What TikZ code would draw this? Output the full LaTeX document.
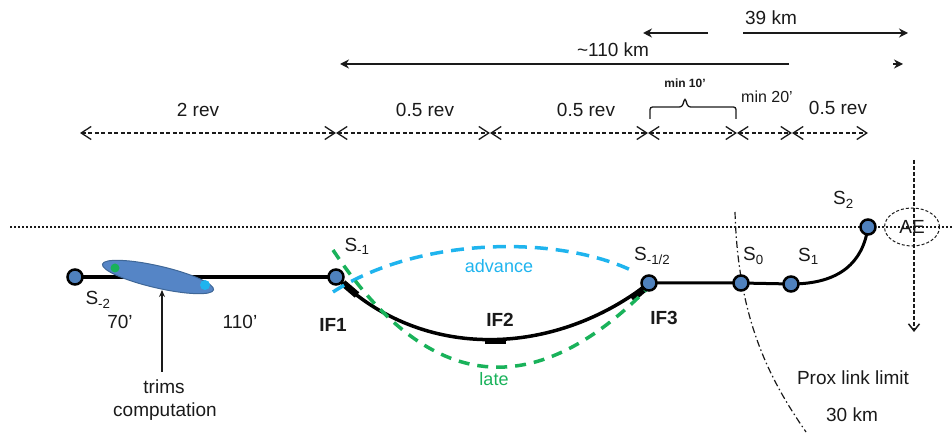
\documentclass[tikz,border=0pt]{standalone}
\usepackage{fontspec}
\setmainfont{Liberation Sans}
\usetikzlibrary{arrows.meta,backgrounds,shapes.geometric}
\definecolor{nodeblue}{HTML}{4F81BD}
\definecolor{ellblue}{HTML}{5585C6}
\definecolor{advblue}{HTML}{1FB4EE}
\definecolor{lategreen}{HTML}{19B25A}
\definecolor{txt}{HTML}{1A1A1A}
\begin{document}
\begin{tikzpicture}[x=1pt,y=-1pt,
  lbl/.style={inner sep=0pt, text=txt, font=\fontsize{19}{22}\selectfont},
  lblb/.style={inner sep=0pt, text=txt, font=\fontsize{19}{22}\selectfont\bfseries},
  stn/.style={circle, fill=nodeblue, draw=black, line width=2.5pt, minimum size=15pt, inner sep=0pt},
  topar/.style={line width=1.8pt, draw=txt, -{Stealth[length=9pt,width=9pt]}},
  dimline/.style={line width=1.3pt, draw=txt, dash pattern=on 4pt off 2.5pt,
     {Straight Barb[length=10pt,width=13pt]}-{Straight Barb[length=10pt,width=13pt]}},
  trackline/.style={line width=3.5pt, draw=black},
  advarc/.style={line width=3.5pt, draw=advblue, dash pattern=on 13pt off 8pt},
  latearc/.style={line width=3.5pt, draw=lategreen, dash pattern=on 11pt off 8pt},
  thickmark/.style={line width=7pt, draw=black},
]
\useasboundingbox (0,0) rectangle (952,435);

% ---------- top distance arrows ----------
\coordinate (k39a) at (708,33);
\coordinate (k39b) at (643,33);
\coordinate (k39c) at (743,33);
\coordinate (k39d) at (908,33);
\draw[topar] (k39a) -- (k39b);
\draw[topar] (k39c) -- (k39d);
\node[lbl] (t39) at (771,18) {39 km};

\coordinate (k110a) at (789,64);
\coordinate (k110b) at (340,64);
\coordinate (k110c) at (893,64);
\coordinate (k110d) at (903,64);
\draw[topar] (k110a) -- (k110b);
\draw[topar] (k110c) -- (k110d);
\node[lbl] (t110) at (613,50) {\textasciitilde 110 km};

% ---------- revolution dimension row ----------
\coordinate (d0) at (80,133);
\coordinate (d1) at (336,133);
\coordinate (d2) at (490,133);
\coordinate (d3) at (648,133);
\coordinate (d4) at (737,133);
\coordinate (d5) at (792,133);
\coordinate (d6) at (868,133);
\draw[dimline] (d0) -- (d1);
\draw[dimline] (d1) -- (d2);
\draw[dimline] (d2) -- (d3);
\draw[dimline] (d3) -- (d4);
\draw[dimline] (d4) -- (d5);
\draw[dimline] (d5) -- (d6);

\node[lbl] (r2) at (198,110) {2 rev};
\node[lbl] (r05a) at (425,110) {0.5 rev};
\node[lbl] (r05b) at (586,110) {0.5 rev};
\node[lbl] (r05c) at (838,108) {0.5 rev};
\node[inner sep=0pt, text=txt, font=\fontsize{12}{14}\selectfont\bfseries] (m10) at (685,83) {min 10'};
\node[inner sep=0pt, text=txt, font=\fontsize{16}{18}\selectfont] (m20) at (767,97) {min 20'};
\draw[line width=1.3pt, draw=txt, rounded corners=2.5pt]
  (650,119) -- (650,107) -- (682,107) -- (685,98) -- (688,107) -- (736,107) -- (736,119);

% ---------- reference dotted line and AE ----------
\coordinate (hl) at (10,227);
\coordinate (hr) at (952,227);
\draw[line width=1.5pt, draw=txt, dash pattern=on 2pt off 2pt] (hl) -- (hr);
\node[ellipse, draw=txt, line width=1pt, dash pattern=on 3pt off 2pt,
      minimum width=55pt, minimum height=38pt, inner sep=0pt, text=txt,
      font=\fontsize{19}{22}\selectfont] (ae) at (912,227) {AE};
\coordinate (vtop) at (914,160);
\coordinate (vbot) at (914,332);
\draw[line width=1.5pt, draw=txt, dash pattern=on 4pt off 2pt,
      -{Straight Barb[length=7pt,width=11pt]}] (vtop) -- (vbot);

% ---------- stations ----------
\node[stn] (sm2) at (75,277) {};
\node[stn] (if1) at (336,277) {};
\node[stn] (s12) at (649,283) {};
\node[stn] (s0) at (741,283) {};
\node[stn] (s1) at (791,284) {};
\node[stn] (s2) at (868,227) {};

\begin{scope}[on background layer]
  % prox link limit
  \coordinate (pl0) at (735,212);
  \coordinate (pl1) at (806,432);
  \draw[line width=1.2pt, draw=txt, dash pattern=on 7pt off 3pt on 1.5pt off 3pt]
     (pl0) .. controls (738,320) and (770,380) .. (pl1);
  % tracks
  \draw[trackline] (sm2.center) -- (if1.center);
  \draw[trackline] (if1.center) .. controls (423,363) and (556,356) .. (s12.center);
  \draw[trackline, line width=3pt] (s12.center) -- (s0.center) -- (s1.center);
  \draw[trackline, line width=3pt] (s1.center) .. controls (840,284) and (863,262) .. (s2.center);
  % thick marks on the transfer arc
  \draw[thickmark] (343,283) -- (357,295);
  \draw[thickmark] (632,299) -- (645,288);
  \draw[line width=6pt, draw=black] (485,341) -- (506,341);
  % advance / late arcs
  \draw[advarc] (333,292) .. controls (418,237) and (558,234) .. (635,272);
  \draw[latearc] (333,250) .. controls (442,414) and (551,385) .. (646,290);
  % trims ellipse
  \fill[ellblue, draw=nodeblue!80!black, line width=1pt, rotate around={-13:(158,277)}]
     (158,277) ellipse [x radius=57pt, y radius=11pt];
  \fill[lategreen] (115,268) circle (4.5pt);
  \fill[advblue] (205,285) circle (5pt);
\end{scope}

% ---------- labels ----------
\node[lbl] (lsm2) at (98,300) {S\textsubscript{-2}};
\node[lbl] (l70) at (120,322) {70'};
\node[lbl] (l110) at (240,322) {110'};
\node[lblb] (lif1) at (333,325) {IF1};
\node[lbl] (lsm1) at (357,246) {S\textsubscript{-1}};
\node[lblb] (lif2) at (500,320) {IF2};
\node[lblb] (lif3) at (664,318) {IF3};
\node[lbl, anchor=west] (ls12) at (634,256) {S\textsubscript{-1/2}};
\node[lbl, anchor=west] (ls0) at (743,256) {S\textsubscript{0}};
\node[lbl, anchor=west] (ls1) at (798,256) {S\textsubscript{1}};
\node[lbl, anchor=west] (ls2) at (833,200) {S\textsubscript{2}};
\node[inner sep=0pt, text=advblue, font=\fontsize{18}{20}\selectfont] (ladv) at (499,266) {advance};
\node[inner sep=0pt, text=lategreen, font=\fontsize{18}{20}\selectfont] (llate) at (494,379) {late};
\node[lbl] (lprox) at (853,378) {Prox link limit};
\node[lbl] (l30) at (852,415) {30 km};

% trims computation
\node[lbl] (ltrims) at (164,387) {trims};
\node[lbl] (lcomp) at (165,412) {computation};
\coordinate (trtip) at (162,290);
\draw[line width=1.3pt, draw=txt, -{Stealth[length=7pt,width=6pt]}] (ltrims.north -| trtip) ++(0,-8) -- (trtip);
\end{tikzpicture}
\end{document}
